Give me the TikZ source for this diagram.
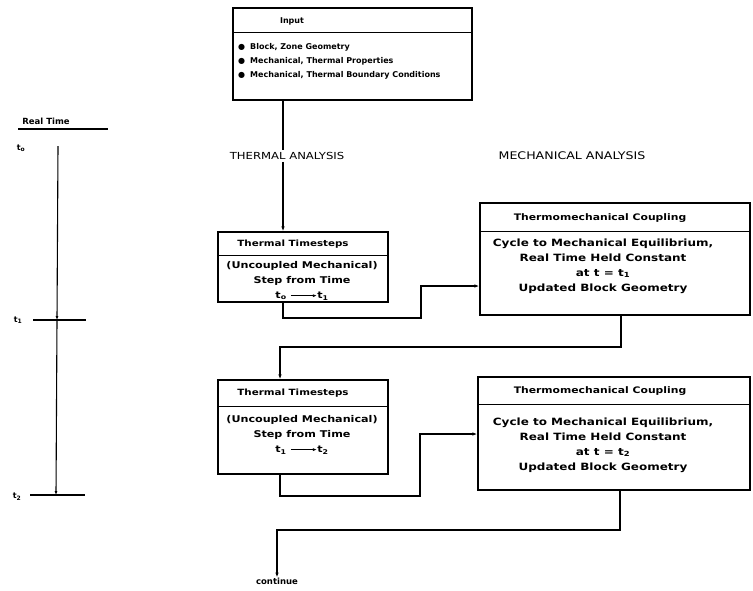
\documentclass[tikz,border=0pt]{standalone}
\usepackage{fontspec}
\setmainfont{DejaVu Sans}
\newfontfamily\plotw[FakeStretch=1.2]{DejaVu Sans}
\usetikzlibrary{arrows.meta}
\begin{document}
\begin{tikzpicture}[x=1pt,y=-1pt,
  box/.style={draw, line width=1.3pt, inner sep=0pt},
  divider/.style={line width=1.2pt},
  conn/.style={line width=1.1pt},
  arr/.style={conn,-{Latex[length=5pt,width=3.5pt]}},
  hd/.style={font=\bfseries\fontsize{8}{10}\selectfont, inner sep=0pt},
  mhd/.style={font=\plotw\bfseries\fontsize{9}{10}\selectfont, inner sep=0pt},
  thd/.style={font=\plotw\bfseries\fontsize{8.6}{10}\selectfont, inner sep=0pt},
  body/.style={font=\plotw\bfseries\fontsize{10}{15}\selectfont, align=center, inner sep=0pt},
  tbody/.style={font=\plotw\bfseries\fontsize{9.3}{15}\selectfont, align=center, inner sep=0pt},
  item/.style={font=\bfseries\fontsize{8}{10}\selectfont, inner sep=0pt, anchor=west},
  lab/.style={font=\plotw\fontsize{9.7}{11}\selectfont, inner sep=2pt, fill=white},
  tl/.style={font=\bfseries\fontsize{8}{10}\selectfont, inner sep=0pt},
]
\useasboundingbox (0,0) rectangle (753,590);
\newcommand{\tarrow}{\tikz[baseline=-0.6ex]\draw[line width=0.8pt,-{Latex[length=4pt,width=3pt]}] (0pt,0pt)--(26pt,0pt);}

% Input box
\node[box, minimum width=239pt, minimum height=92pt] (inp) at (352.5,54) {};
\draw[divider] ([yshift=-25pt]inp.north west) -- ([yshift=-25pt]inp.north east);
\node[hd] (inph) at (292,21) {Input};
\node[item] (i1) at (238,47) {●\hspace{5pt}Block, Zone Geometry};
\node[item] (i2) at (238,61) {●\hspace{5pt}Mechanical, Thermal Properties};
\node[item] (i3) at (238,75) {●\hspace{5pt}Mechanical, Thermal Boundary Conditions};

% column labels
\node[lab] (thl) at (287,156) {THERMAL ANALYSIS};
\node[lab, font=\plotw\fontsize{10.5}{12}\selectfont] (mel) at (572,156) {MECHANICAL ANALYSIS};

% Thermal box 1
\node[box, minimum width=170pt, minimum height=70pt] (th1) at (303,267) {};
\draw[divider] ([yshift=-24pt]th1.north west) -- ([yshift=-24pt]th1.north east);
\node[thd] (th1h) at (293,244) {Thermal Timesteps};
\node[tbody] (th1b) at (302,281) {(Uncoupled Mechanical)\\Step from Time\\t\textsubscript{o} \tarrow t\textsubscript{1}};

% Mech box 1
\node[box, minimum width=270pt, minimum height=112pt] (m1) at (615,259) {};
\draw[divider] ([yshift=-29pt]m1.north west) -- ([yshift=-29pt]m1.north east);
\node[mhd] (m1h) at (600,218) {Thermomechanical Coupling};
\node[body] (m1b) at (603,266) {Cycle to Mechanical Equilibrium,\\Real Time Held Constant\\at t = t\textsubscript{1}\\Updated Block Geometry};

% Thermal box 2
\node[box, minimum width=170pt, minimum height=94pt] (th2) at (303,427) {};
\draw[divider] ([yshift=-27pt]th2.north west) -- ([yshift=-27pt]th2.north east);
\node[thd] (th2h) at (293,393) {Thermal Timesteps};
\node[tbody] (th2b) at (302,435) {(Uncoupled Mechanical)\\Step from Time\\t\textsubscript{1} \tarrow t\textsubscript{2}};

% Mech box 2
\node[box, minimum width=272pt, minimum height=113pt] (m2) at (614,433.5) {};
\draw[divider] ([yshift=-28pt]m2.north west) -- ([yshift=-28pt]m2.north east);
\node[mhd] (m2h) at (600,391) {Thermomechanical Coupling};
\node[body] (m2b) at (603,445) {Cycle to Mechanical Equilibrium,\\Real Time Held Constant\\at t = t\textsubscript{2}\\Updated Block Geometry};

\node[tl, font=\bfseries\fontsize{8.5}{10}\selectfont] (cont) at (277,581) {continue};

% connectors
\coordinate (cx) at (283,0);
\draw[conn] (inp.south -| cx) -- (thl.north -| cx);
\draw[arr] (thl.south -| cx) -- (th1.north -| cx);

\coordinate (a1) at (421,318);
\coordinate (b1) at (421,286);
\draw[arr] (th1.south -| cx) |- (a1) -- (b1) -- (m1.west |- b1);

\coordinate (a2) at (280,347);
\draw[arr] ([xshift=6pt]m1.south) |- (a2) -- (th2.north -| a2);

\coordinate (a3) at (420,496);
\coordinate (b3) at (420,434);
\draw[arr] (th2.south -| a2) |- (a3) -- (b3) -- (m2.west |- b3);

\coordinate (a4) at (277,530);
\draw[arr] ([xshift=6pt]m2.south) |- (a4) -- (cont.north -| a4);

% Real time axis
\node[tl, font=\bfseries\fontsize{8.5}{10}\selectfont] (rt) at (46,121) {Real Time};
\draw[line width=1.3pt] (18,129) -- (108,129);
\node[tl] (t0) at (21,148) {t\textsubscript{o}};
\node[tl] (t1) at (18,320) {t\textsubscript{1}};
\node[tl] (t2) at (17,497) {t\textsubscript{2}};
\coordinate (p0) at (58,146);
\coordinate (p1) at (57,320);
\coordinate (p2) at (56,495);
\draw[line width=1.2pt] (33,320) -- (86,320);
\draw[line width=1.2pt] (30,495) -- (85,495);
\draw[conn,-{Latex[length=4pt,width=3pt]}] (p0) -- (p1);
\draw[conn,-{Latex[length=4pt,width=3pt]}] (p1) -- (p2);
\end{tikzpicture}
\end{document}
